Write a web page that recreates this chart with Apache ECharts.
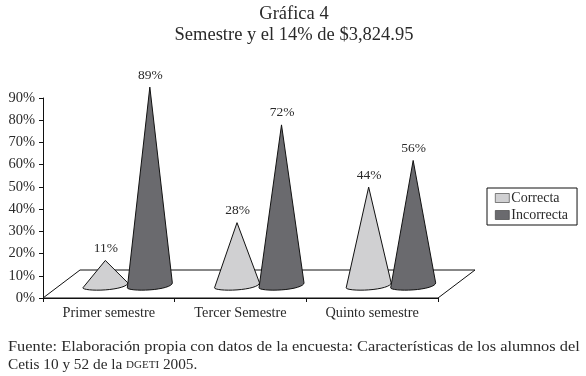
<!DOCTYPE html>
<html><head><meta charset="utf-8">
<style>html,body{margin:0;padding:0;background:#fff}#c{width:586px;height:376px}</style>
<script src="https://cdn.jsdelivr.net/npm/echarts@6/dist/echarts.min.js"></script>
</head><body><div id="c"></div>
<script>
const categories = ['Primer semestre', 'Tercer Semestre', 'Quinto semestre'];
const correcta = [11, 28, 44];
const incorrecta = [89, 72, 56];
const yTicks = [0, 10, 20, 30, 40, 50, 60, 70, 80, 90];
const FONT = '"Liberation Serif", serif';
const INK = '#2a2a2a';
const floorDepth = 5.9, floorBack = 12.6;

function coneRender(dx) {
  return function (params, api) {
    const idx = api.value(0), v = api.value(1);
    const base = api.coord([idx, floorDepth]);
    const peak = api.coord([idx, v + floorDepth]);
    const cx = base[0] + dx, hw = 22.5;
    const pts = [[cx, peak[1]]];
    const yR = base[1] - 2, yL = base[1] + 3, sag = 4.5;
    for (let i = 0; i <= 16; i++) {
      const t = i / 16, a = t * Math.PI;
      pts.push([cx + hw * Math.cos(a), yR + (yL - yR) * t + sag * Math.sin(a)]);
    }
    return {
      type: 'group',
      children: [
        { type: 'polygon', shape: { points: pts },
          style: { fill: api.visual('color'), stroke: '#111', lineWidth: 1 } },
        { type: 'text', x: cx + 0.5, y: peak[1] - 12,
          style: { text: v + '%', font: '13.5px ' + FONT, fill: INK, align: 'center', verticalAlign: 'middle' } }
      ]
    };
  };
}
function floorRender(params, api) {
  const s = params.coordSys;
  const yB = api.coord([0, floorBack])[1], yF = s.y + s.height;
  return { type: 'polygon',
    shape: { points: [[s.x, yF], [s.x + 37, yB], [s.x + s.width + 37, yB], [s.x + s.width, yF]] },
    style: { fill: '#fff', stroke: '#111', lineWidth: 1 } };
}
const option = {
  backgroundColor: '#fff',
  animation: false,
  title: [
    { text: 'Gráfica 4', left: 294, top: 5, padding: 0, textAlign: 'center',
      textStyle: { fontFamily: FONT, fontSize: 18.5, fontWeight: 'normal', color: INK } },
    { text: 'Semestre y el 14% de $3,824.95', left: 294, top: 26, padding: 0, textAlign: 'center',
      textStyle: { fontFamily: FONT, fontSize: 18.5, fontWeight: 'normal', color: INK } }
  ],
  graphic: [
    { type: 'text', x: 8, y: 347, scaleX: 1.07,
      style: { text: 'Fuente: Elaboración propia con datos de la encuesta: Características de los alumnos del',
        font: '15.3px ' + FONT, fill: INK, verticalAlign: 'middle' } },
    { type: 'text', x: 8, y: 365,
      style: { text: 'Cetis 10 y 52 de la {sc|DGETI} 2005.', font: '15.3px ' + FONT, fill: INK, verticalAlign: 'middle',
        rich: { sc: { font: '11px ' + FONT, fill: INK } } } }
  ],
  grid: { left: 43, top: 98, width: 395, height: 200 },
  legend: {
    data: ['Correcta', 'Incorrecta'], orient: 'vertical', left: 487, top: 188,
    backgroundColor: '#fff', borderColor: '#111', borderWidth: 1, padding: [3, 9, 3, 8],
    itemWidth: 14, itemHeight: 9, itemGap: 3, icon: 'rect',
    itemStyle: { borderWidth: 0.6, borderColor: '#333' },
    textStyle: { fontFamily: FONT, fontSize: 14, color: INK, padding: [0, 0, 0, -3] }
  },
  xAxis: { type: 'category', data: categories,
    axisLine: { lineStyle: { color: '#111' } },
    axisTick: { show: true, length: 4, lineStyle: { color: '#111' }, alignWithLabel: false },
    axisLabel: { fontFamily: FONT, fontSize: 14.3, color: INK, margin: 8, interval: 0 } },
  yAxis: { type: 'value', min: 0, max: 90, interval: 10,
    axisLine: { show: true, lineStyle: { color: '#111' } },
    axisTick: { show: true, length: 4, lineStyle: { color: '#111' } },
    splitLine: { show: false },
    axisLabel: { fontFamily: FONT, fontSize: 14.5, color: INK, margin: 8,
      formatter: v => yTicks.includes(v) ? v + '%' : '' } },
  series: [
    { type: 'custom', name: 'floor', renderItem: floorRender, data: [[0, 0]], clip: false, silent: true, z: 1 },
    { type: 'custom', name: 'Correcta', renderItem: coneRender(-3.5), clip: false, z: 2,
      encode: { x: 0, y: 1 }, data: correcta.map((v, i) => [i, v]),
      itemStyle: { color: '#d0d0d2', borderColor: '#111', borderWidth: 1 } },
    { type: 'custom', name: 'Incorrecta', renderItem: coneRender(41), clip: false, z: 3,
      encode: { x: 0, y: 1 }, data: incorrecta.map((v, i) => [i, v]),
      itemStyle: { color: '#6a6a6e', borderColor: '#111', borderWidth: 1 } }
  ]
};
echarts.init(document.getElementById('c'), null, { renderer: 'canvas' }).setOption(option);
</script></body></html>
